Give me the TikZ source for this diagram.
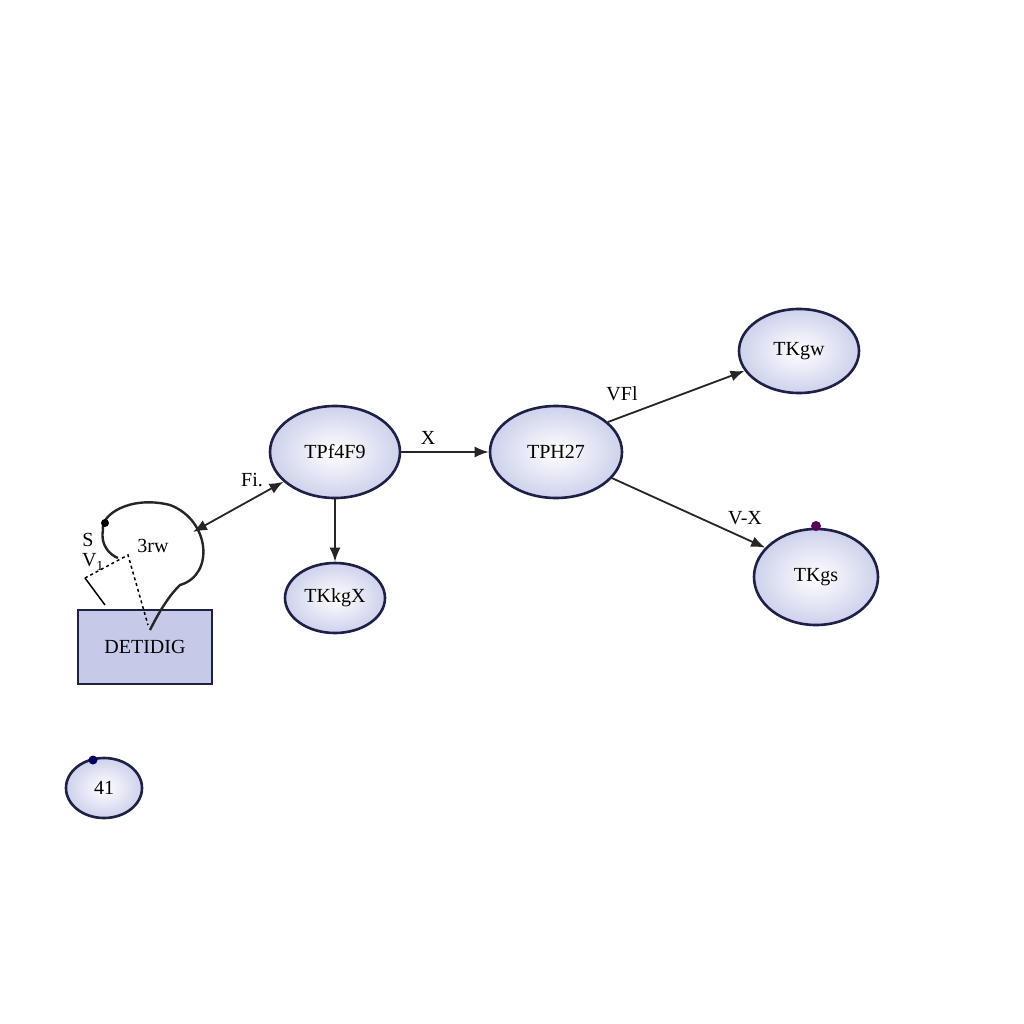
\documentclass[tikz,border=0pt]{standalone}
\usepackage{fontspec}
\setmainfont{Liberation Serif}
\usetikzlibrary{shapes.geometric,arrows.meta}
\definecolor{elfill}{RGB}{205,210,236}
\definecolor{boxfill}{RGB}{196,202,232}
\definecolor{edge}{RGB}{30,32,70}
\begin{document}
\begin{tikzpicture}[x=1pt,y=-1pt,
  el/.style={ellipse,draw=edge,line width=2.6pt,inner color=white,outer color=elfill,font=\fontsize{20}{22}\selectfont},
  arr/.style={-{Latex[length=14pt,width=11pt]},line width=1.8pt,black!85},
  lab/.style={font=\fontsize{20}{22}\selectfont}]
\useasboundingbox (0,0) rectangle (1024,1024);
\fill[white] (0,0) rectangle (1024,1024);
\node[el,minimum width=130,minimum height=92] (a) at (335,452) {TPf4F9};
\node[el,minimum width=132,minimum height=92] (b) at (556,452) {TPH27};
\node[el,minimum width=120,minimum height=84] (c) at (799,351) {TKgw};
\node[el,minimum width=124,minimum height=96] (d) at (816,577) {TKgs};
\node[el,minimum width=100,minimum height=70] (e) at (335,598) {TKkgX};
\node[el,minimum width=76,minimum height=60] (f) at (104,788) {41};
\node[draw=edge,line width=2.6pt,fill=boxfill,minimum width=134,minimum height=74,font=\fontsize{20}{22}\selectfont] (g) at (145,647) {DETIDIG};
\fill[blue!40!black] (93,760) circle (4.5);
\fill[violet!70!black] (816,526) circle (5);
% blob
\draw[line width=2.4pt,black!85] (150,630) .. controls (165,600) and (175,590) .. (180,585)
  .. controls (215,575) and (210,520) .. (170,505)
  .. controls (130,495) and (100,515) .. (103,530)
  .. controls (100,545) and (110,555) .. (118,558);
\fill (105,523) circle (4);
\node[lab] (bw) at (153,546) {3rw};
\draw[dashed,line width=1.5pt] (85,578) -- (128,555) -- (148,625);
\draw[line width=1.5pt] (85,578) -- (105,605);
\node[lab] (s) at (88,540) {S};
\node[lab] (v) at (93,562) {V\textsubscript{1}};
\coordinate (bl) at (193,532);
\draw[{Latex[length=14pt,width=11pt]}-{Latex[length=14pt,width=11pt]},line width=1.8pt,black!85] (bl) -- (a.210);
\node[lab] (l1) at (252,480) {Fi.};
\draw[arr] (a) -- (b);
\node[lab] (l2) at (428,438) {X};
\draw[arr] (a) -- (e);
\draw[arr] (b.30) -- (c.200);
\node[lab] (l3) at (622,394) {VFl};
\draw[arr] (b.-25) -- (d.150);
\node[lab] (l4) at (745,518) {V-X};
\end{tikzpicture}
\end{document}
